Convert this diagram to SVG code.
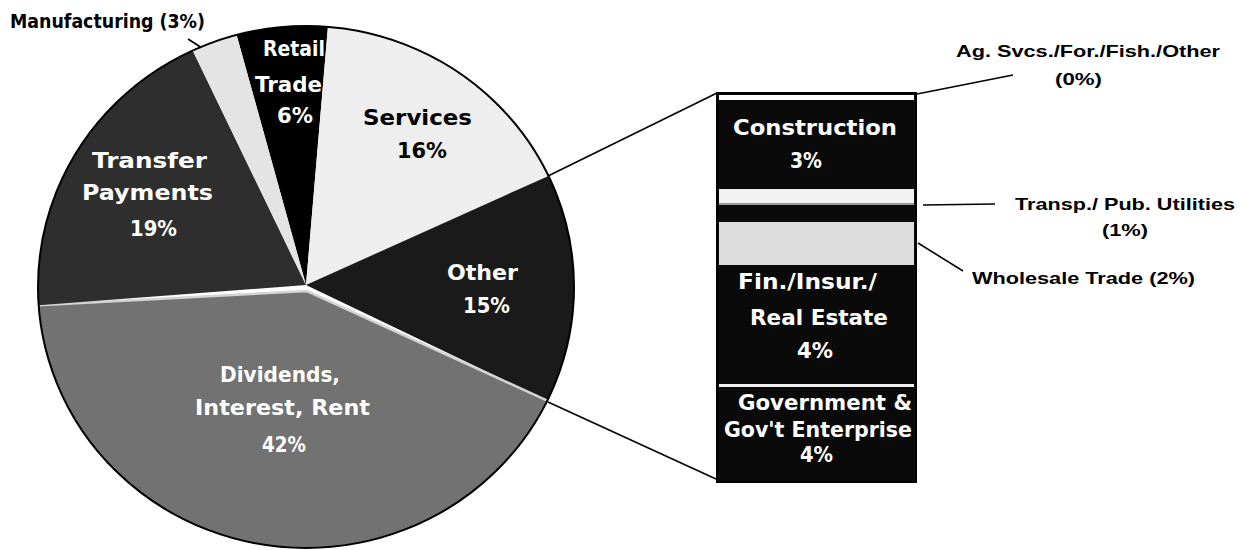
<svg xmlns="http://www.w3.org/2000/svg" width="1250" height="550" viewBox="0 0 1250 550">
<style>
  .lw { font-family: "DejaVu Sans", "Liberation Sans", Arial, sans-serif; font-weight: bold; font-size: 22px; fill: #ffffff; }
  .lb { font-family: "DejaVu Sans", "Liberation Sans", Arial, sans-serif; font-weight: bold; font-size: 22px; fill: #000000; }
  .call { font-family: "Liberation Sans", Arial, sans-serif; font-weight: bold; font-size: 17px; fill: #000000; }
  .conn { stroke: #000000; stroke-width: 1.6; fill: none; }
</style>
<rect width="1250" height="550" fill="#ffffff"/>

<g id="connectors">
  <line class="conn" x1="548" y1="176" x2="717" y2="93"/>
  <line class="conn" x1="548" y1="402" x2="716" y2="479"/>
  <line class="conn" x1="188" y1="39" x2="202" y2="48"/>
  <line class="conn" x1="917" y1="94" x2="1013" y2="75"/>
  <line class="conn" x1="923" y1="205" x2="995" y2="204"/>
  <line class="conn" x1="918" y1="243" x2="963" y2="271"/>
</g>

<g id="pie">
  <g id="slice-retail">
    <path d="M306,285 L236.6,34.9 A268,261 0 0 1 327.9,26.9 Z" fill="#000000"/>
    <text class="lw" x="263" y="56" textLength="62" lengthAdjust="spacingAndGlyphs">Retail</text>
    <text class="lw" x="255" y="92" textLength="67" lengthAdjust="spacingAndGlyphs">Trade</text>
    <text class="lw" x="277" y="123" textLength="36" lengthAdjust="spacingAndGlyphs">6%</text>
  </g>
  <g id="slice-services">
    <path d="M306,285 L327.9,26.9 A268,261 0 0 1 548.5,175.9 Z" fill="#eeeeee"/>
    <text class="lb" x="363" y="125" textLength="109" lengthAdjust="spacingAndGlyphs">Services</text>
    <text class="lb" x="397" y="158" textLength="50" lengthAdjust="spacingAndGlyphs">16%</text>
  </g>
  <g id="slice-other">
    <path d="M306,285 L548.5,175.9 A268,261 0 0 1 547.3,400.6 Z" fill="#1a1a1a"/>
    <text class="lw" x="447" y="280" textLength="71" lengthAdjust="spacingAndGlyphs">Other</text>
    <text class="lw" x="463" y="313" textLength="47" lengthAdjust="spacingAndGlyphs">15%</text>
  </g>
  <g id="slice-dividends">
    <path d="M307,291 L547.3,400.6 A268,261 0 0 1 38.6,305.2 Z" fill="#727272"/>
    <polyline points="38.6,305.2 307,291 547.3,400.6" fill="none" stroke="#d4d4d4" stroke-width="2.5"/>
    <text class="lw" x="220" y="382" textLength="120" lengthAdjust="spacingAndGlyphs">Dividends,</text>
    <text class="lw" x="195" y="415" textLength="175" lengthAdjust="spacingAndGlyphs">Interest, Rent</text>
    <text class="lw" x="262" y="452" textLength="44" lengthAdjust="spacingAndGlyphs">42%</text>
  </g>
  <g id="slice-transfer">
    <path d="M306,285 L38.6,305.2 A268,261 0 0 1 192.7,50.5 Z" fill="#2e2e2e"/>
    <text class="lw" x="92" y="168" textLength="115" lengthAdjust="spacingAndGlyphs">Transfer</text>
    <text class="lw" x="82" y="200" textLength="131" lengthAdjust="spacingAndGlyphs">Payments</text>
    <text class="lw" x="130" y="236" textLength="47" lengthAdjust="spacingAndGlyphs">19%</text>
  </g>
  <g id="slice-manufacturing">
    <path d="M306,285 L192.7,50.5 A268,261 0 0 1 236.6,34.9 Z" fill="#e4e4e4"/>
  </g>
  <ellipse cx="306" cy="287" rx="268" ry="261" fill="none" stroke="#000000" stroke-width="2"/>
</g>

<g id="label-manufacturing">
  <text class="lb" style="font-size:20px" x="10" y="28" textLength="195" lengthAdjust="spacingAndGlyphs">Manufacturing (3%)</text>
</g>

<g id="bar">
  <rect x="717" y="93" width="199" height="389" fill="#0a0a0a" stroke="#000000" stroke-width="2"/>
  <g id="seg-ag">
    <rect x="719" y="95" width="195" height="5" fill="#ffffff"/>
  </g>
  <g id="seg-construction">
    <text class="lw" x="733" y="135" textLength="164" lengthAdjust="spacingAndGlyphs">Construction</text>
    <text class="lw" x="790" y="168" textLength="32" lengthAdjust="spacingAndGlyphs">3%</text>
  </g>
  <g id="seg-transp">
    <rect x="719" y="189" width="195" height="14" fill="#f2f2f2"/>
    <rect x="719" y="203" width="195" height="2" fill="#999999"/>
  </g>
  <g id="seg-wholesale">
    <rect x="719" y="222" width="195" height="43" fill="#dcdcdc"/>
  </g>
  <g id="seg-fin">
    <text class="lw" x="738" y="289" textLength="139" lengthAdjust="spacingAndGlyphs">Fin./Insur./</text>
    <text class="lw" x="750" y="325" textLength="138" lengthAdjust="spacingAndGlyphs">Real Estate</text>
    <text class="lw" x="797" y="358" textLength="36" lengthAdjust="spacingAndGlyphs">4%</text>
  </g>
  <g id="seg-government">
    <rect x="719" y="384" width="195" height="3" fill="#f0f0f0"/>
    <text class="lw" x="738" y="410" textLength="174" lengthAdjust="spacingAndGlyphs">Government &amp;</text>
    <text class="lw" x="724" y="437" textLength="188" lengthAdjust="spacingAndGlyphs">Gov't Enterprise</text>
    <text class="lw" x="800" y="462" textLength="33" lengthAdjust="spacingAndGlyphs">4%</text>
  </g>
</g>

<g id="label-ag">
  <text class="call" x="956" y="57" textLength="264" lengthAdjust="spacingAndGlyphs">Ag. Svcs./For./Fish./Other</text>
  <text class="call" x="1055" y="85" textLength="47" lengthAdjust="spacingAndGlyphs">(0%)</text>
</g>
<g id="label-transp">
  <text class="call" x="1015" y="210" textLength="220" lengthAdjust="spacingAndGlyphs">Transp./ Pub. Utilities</text>
  <text class="call" x="1102" y="236" textLength="46" lengthAdjust="spacingAndGlyphs">(1%)</text>
</g>
<g id="label-wholesale">
  <text class="call" x="972" y="284" textLength="223" lengthAdjust="spacingAndGlyphs">Wholesale Trade (2%)</text>
</g>
</svg>
